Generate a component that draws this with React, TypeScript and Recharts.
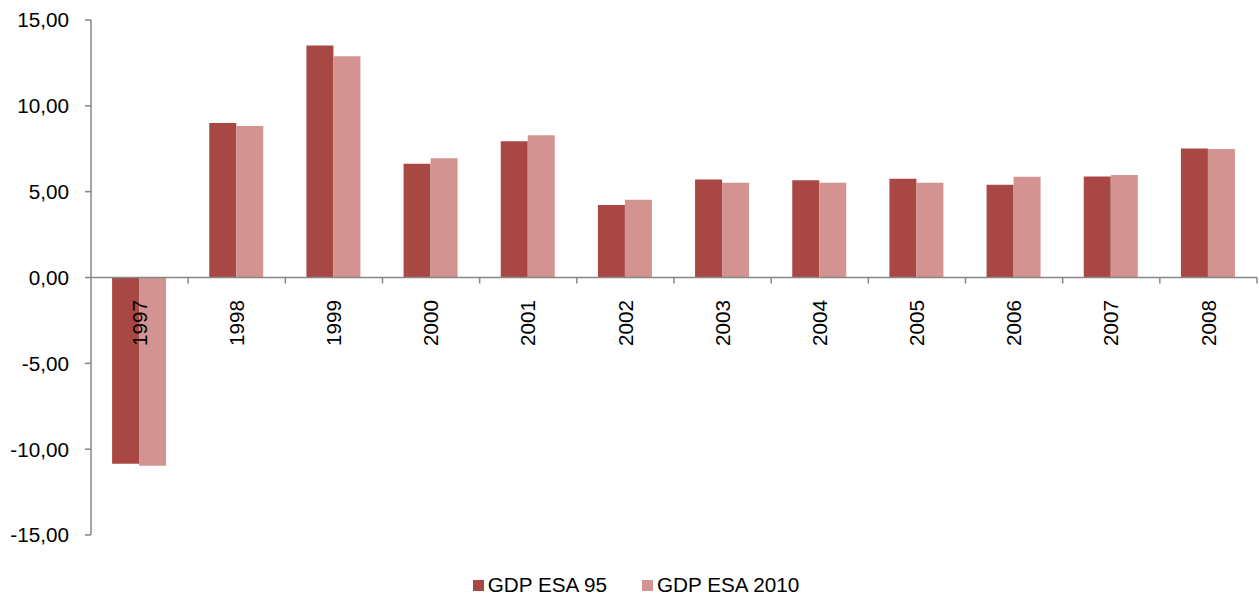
import { BarChart, Bar, XAxis, YAxis, ReferenceLine, Legend } from 'recharts'

const categories = ['1997', '1998', '1999', '2000', '2001', '2002', '2003', '2004', '2005', '2006', '2007', '2008']
const gdpEsa95 = [-10.85, 9.0, 13.51, 6.63, 7.93, 4.22, 5.71, 5.66, 5.75, 5.4, 5.89, 7.52]
const gdpEsa2010 = [-10.96, 8.82, 12.89, 6.94, 8.28, 4.53, 5.52, 5.52, 5.52, 5.87, 5.97, 7.48]
const yTicks = [-15, -10, -5, 0, 5, 10, 15]

const data = categories.map((year, i) => ({ year, esa95: gdpEsa95[i], esa2010: gdpEsa2010[i] }))

const W = 1259
const H = 596
const M = { top: 20, right: 2, bottom: 34, left: 0 }
const LEGEND_H = 26
const X_H = 1
const Y_W = 91
const plotTop = M.top
const plotBottom = H - M.bottom - LEGEND_H - X_H
const zeroY = plotTop + (plotBottom - plotTop) / 2
const band = (W - M.right - Y_W) / categories.length

const DARK = '#A94745'
const LIGHT = '#D29391'
const AXIS = '#868686'
const FONT = '"Liberation Sans", Arial, sans-serif'

function renderYearTick(props: any) {
    const { x, payload } = props
    return (
        <g key={`yt-${payload.value}`}>
            <line x1={x + band / 2} x2={x + band / 2} y1={zeroY} y2={zeroY + 6} stroke={AXIS} strokeWidth={1.5} />
            <text
                x={x}
                y={zeroY + 22.5}
                dy="0.35em"
                textAnchor="end"
                transform={`rotate(-90, ${x}, ${zeroY + 22.5})`}
                fontSize={20.7}
                fontFamily={FONT}
                fill="#000"
            >
                {payload.value}
            </text>
        </g>
    )
}

function LegendBox() {
    const items = [
        { label: 'GDP ESA 95', color: DARK },
        { label: 'GDP ESA 2010', color: LIGHT },
    ]
    return (
        <div style={{ display: 'flex', justifyContent: 'center', alignItems: 'center', height: LEGEND_H, paddingLeft: 15, fontFamily: FONT, fontSize: 20.7, color: '#000' }}>
            {items.map((it, i) => (
                <div key={it.label} style={{ display: 'flex', alignItems: 'center', marginLeft: i ? 35 : 0 }}>
                    <span style={{ width: 11, height: 11, background: it.color, marginRight: 4, display: 'inline-block' }} />
                    <span>{it.label}</span>
                </div>
            ))}
        </div>
    )
}

export default function App() {
    return (
        <div style={{ position: 'absolute', left: 0, top: 0, width: W, height: H, background: '#fff' }}>
            <BarChart width={W} height={H} data={data} margin={M} barCategoryGap="21.7%" barGap={0}>
                <YAxis
                    width={Y_W}
                    domain={[-15, 15]}
                    ticks={yTicks}
                    interval={0}
                    tickFormatter={(v: number) => v.toFixed(2).replace('.', ',')}
                    stroke={AXIS}
                    axisLine={{ stroke: AXIS, strokeWidth: 1.5 }}
                    tickLine={{ stroke: AXIS, strokeWidth: 1.5 }}
                    tickSize={6}
                    tickMargin={16}
                    tick={{ fill: '#000', fontSize: 20.7, fontFamily: FONT }}
                />
                <Bar dataKey="esa95" name="GDP ESA 95" fill={DARK} isAnimationActive={false} />
                <Bar dataKey="esa2010" name="GDP ESA 2010" fill={LIGHT} isAnimationActive={false} />
                <ReferenceLine y={0} stroke={AXIS} strokeWidth={1.5} />
                <XAxis dataKey="year" height={X_H} axisLine={false} tickLine={false} interval={0} tick={renderYearTick} />
                <Legend verticalAlign="bottom" content={<LegendBox />} wrapperStyle={{ top: 572, bottom: 'auto' }} />
            </BarChart>
        </div>
    )
}
